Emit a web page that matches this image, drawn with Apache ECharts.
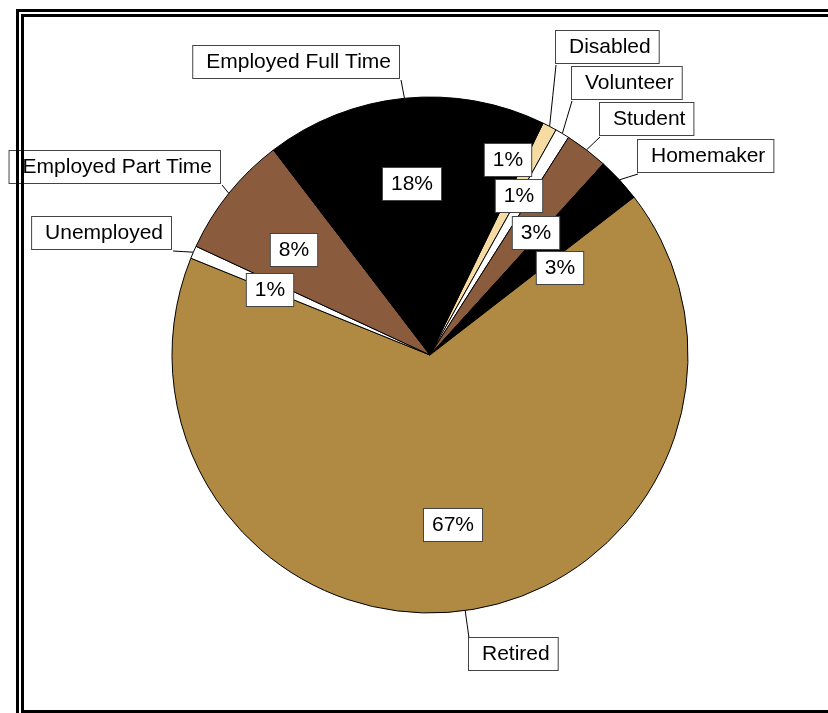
<!DOCTYPE html>
<html><head><meta charset="utf-8">
<script src="https://cdn.jsdelivr.net/npm/echarts@6/dist/echarts.min.js"></script>
<style>html,body{margin:0;padding:0;background:#fff}#c{width:828px;height:713px}</style>
</head><body><div id="c"></div>
<script>
// ---- data (clockwise from the top-right) ----
const categories = ['Disabled', 'Volunteer', 'Student', 'Homemaker', 'Retired', 'Unemployed', 'Employed Part Time', 'Employed Full Time'];
const values = [0.9, 0.9, 2.7, 2.8, 66.6, 0.8, 7.7, 17.6];
const sliceColors = ['#F6DBA3', '#FFFFFF', '#8B5B3D', '#000000', '#B08A42', '#FFFFFF', '#8B5B3D', '#000000'];

// ---- label placement (layout only) ----
// corner of each name box where the leader line meets it: [corner, x, y]
const nameCorner = [
  ['bl', 556, 65], ['bl', 572, 101], ['bl', 600, 137], ['bl', 638, 174],
  ['tl', 469, 638], ['br', 173, 251], ['br', 222, 185], ['br', 401, 80]
];
// centre of each percentage box
const pctCenter = [
  [508, 160], [519, 196], [536, 233], [560, 268],
  [453, 525], [270, 290], [294, 250], [412, 184]
];

const FONT = '"Liberation Sans", Arial, sans-serif';
const CX = 430, CY = 355, R = 258;

const pieData = categories.map((n, i) => ({ name: n, value: values[i], itemStyle: { color: sliceColors[i] } }));
const boxStyle = {
  color: '#000', fontFamily: FONT, fontSize: 21, lineHeight: 24,
  backgroundColor: '#fff', borderColor: '#444', borderWidth: 1
};

const chart = echarts.init(document.getElementById('c'), null, { renderer: 'canvas' });
chart.setOption({
  backgroundColor: '#fff',
  animation: false,
  series: [
    {
      type: 'pie', center: [CX, CY], radius: R, startAngle: 64, clockwise: true,
      avoidLabelOverlap: false, silent: true,
      itemStyle: { borderColor: '#000', borderWidth: 1 },
      emphasis: { disabled: true },
      label: Object.assign({ show: true, position: 'outside', formatter: '{b}', padding: [4, 8, 4, 13] }, boxStyle),
      labelLine: { show: true, length: 10, length2: 10, smooth: false, lineStyle: { color: '#000', width: 1 } },
      labelLayout: function (p) {
        const c = nameCorner[p.dataIndex];
        const w = p.labelRect.width, h = p.labelRect.height;
        let left = c[1], top = c[2];
        if (c[0][1] === 'r') left -= w;
        if (c[0][0] === 'b') top -= h;
        const res = { x: left, y: top, align: 'left', verticalAlign: 'top' };
        if (p.labelLinePoints && p.labelLinePoints.length) {
          const s = p.labelLinePoints[0];
          res.labelLinePoints = [[s[0], s[1]], [(s[0] + c[1]) / 2, (s[1] + c[2]) / 2], [c[1], c[2]]];
        }
        return res;
      },
      data: pieData
    },
    {
      type: 'pie', center: [CX, CY], radius: R, startAngle: 64, clockwise: true,
      avoidLabelOverlap: false, silent: true, z: 3,
      itemStyle: { color: 'rgba(0,0,0,0)', borderWidth: 0 },
      emphasis: { disabled: true },
      label: Object.assign({
        show: true, position: 'inside', padding: [4, 8, 4, 8],
        formatter: p => Math.round(p.percent) + '%'
      }, boxStyle),
      labelLine: { show: false },
      labelLayout: function (p) {
        const c = pctCenter[p.dataIndex];
        return { x: c[0], y: c[1], align: 'center', verticalAlign: 'middle' };
      },
      data: categories.map((n, i) => ({ name: n, value: values[i] }))
    }
  ],
  graphic: [
    { type: 'rect', z: 100, silent: true, shape: { x: 17.5, y: 10.5, width: 900, height: 900 }, style: { fill: null, stroke: '#000', lineWidth: 3 } },
    { type: 'rect', z: 100, silent: true, shape: { x: 22.5, y: 15.5, width: 900, height: 696 }, style: { fill: null, stroke: '#000', lineWidth: 3 } }
  ]
});
</script>
</body></html>
